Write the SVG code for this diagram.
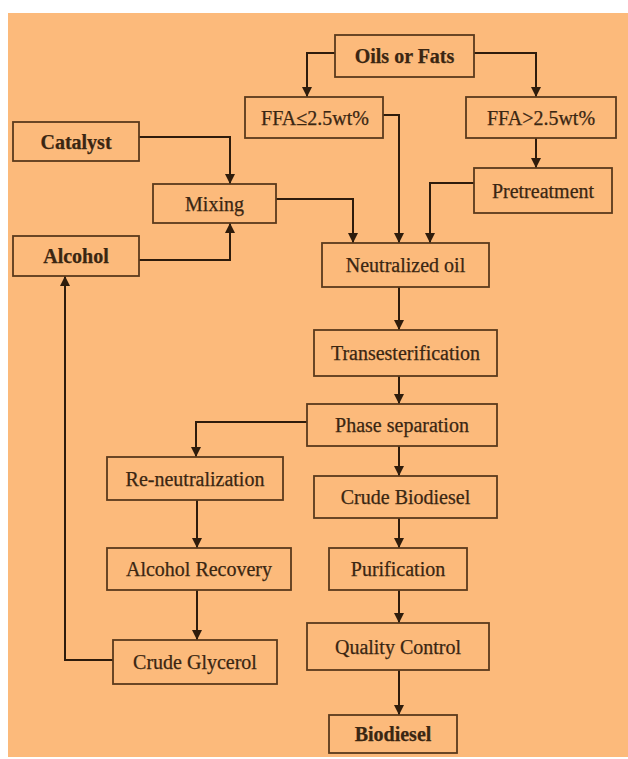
<svg xmlns="http://www.w3.org/2000/svg" width="628" height="759" viewBox="0 0 628 759">
<defs>
<style>
.box{fill:none;stroke:#5a3a1c;stroke-width:1.8}
.t{font-family:"Liberation Serif","Times New Roman",serif;font-size:20px;fill:#3a2612;text-anchor:middle;stroke:#3a2612;stroke-width:0.25}
.b{font-weight:bold}
.c{fill:none;stroke:#2e1c0c;stroke-width:2}
</style>
<marker id="ah" markerUnits="userSpaceOnUse" markerWidth="10" markerHeight="12" refX="10" refY="5" orient="auto">
<path d="M0,0 L10,5 L0,10 Z" fill="#2e1c0c"/>
</marker>
</defs>
<rect x="0" y="0" width="628" height="759" fill="#ffffff"/>
<rect x="8" y="13" width="620" height="744" fill="#fcba7b"/>
<g id="connectors">
<path class="c" d="M335 53 H307 V97" marker-end="url(#ah)"/>
<path class="c" d="M474 53 H536 V97" marker-end="url(#ah)"/>
<path class="c" d="M383 115 H399 V243" marker-end="url(#ah)"/>
<path class="c" d="M536 138 V168" marker-end="url(#ah)"/>
<path class="c" d="M474 183 H430 V243" marker-end="url(#ah)"/>
<path class="c" d="M139 137 H230 V184" marker-end="url(#ah)"/>
<path class="c" d="M139 260 H230 V223" marker-end="url(#ah)"/>
<path class="c" d="M276 199 H353 V243" marker-end="url(#ah)"/>
<path class="c" d="M399 287 V330" marker-end="url(#ah)"/>
<path class="c" d="M399 376 V404" marker-end="url(#ah)"/>
<path class="c" d="M399 446 V476" marker-end="url(#ah)"/>
<path class="c" d="M307 422 H196 V457" marker-end="url(#ah)"/>
<path class="c" d="M197 500 V548" marker-end="url(#ah)"/>
<path class="c" d="M197 590 V640" marker-end="url(#ah)"/>
<path class="c" d="M113 660 H65 V276" marker-end="url(#ah)"/>
<path class="c" d="M399 518 V548" marker-end="url(#ah)"/>
<path class="c" d="M399 590 V623" marker-end="url(#ah)"/>
<path class="c" d="M399 670 V715" marker-end="url(#ah)"/>
</g>
<g id="oils"><rect class="box" x="335" y="35" width="139" height="42"/><text class="t b" x="404.5" y="63">Oils or Fats</text></g>
<g id="ffa-low"><rect class="box" x="245" y="97" width="138" height="41"/><text class="t" x="315" y="124.5">FFA≤2.5wt%</text></g>
<g id="ffa-high"><rect class="box" x="466" y="97" width="150" height="41"/><text class="t" x="541" y="124.5">FFA&gt;2.5wt%</text></g>
<g id="catalyst"><rect class="box" x="13" y="122" width="126" height="39"/><text class="t b" x="76" y="148.5">Catalyst</text></g>
<g id="pretreatment"><rect class="box" x="474" y="168" width="138" height="45"/><text class="t" x="543" y="197.5">Pretreatment</text></g>
<g id="mixing"><rect class="box" x="153" y="184" width="123" height="39"/><text class="t" x="214.5" y="210.5">Mixing</text></g>
<g id="alcohol"><rect class="box" x="13" y="236" width="126" height="40"/><text class="t b" x="76" y="263">Alcohol</text></g>
<g id="neutralized"><rect class="box" x="322" y="243" width="167" height="44"/><text class="t" x="405.5" y="272">Neutralized oil</text></g>
<g id="transesterification"><rect class="box" x="314" y="330" width="183" height="46"/><text class="t" x="405.5" y="360">Transesterification</text></g>
<g id="phase"><rect class="box" x="307" y="404" width="190" height="42"/><text class="t" x="402" y="432">Phase separation</text></g>
<g id="reneutralization"><rect class="box" x="107" y="457" width="176" height="43"/><text class="t" x="195" y="485.5">Re-neutralization</text></g>
<g id="crude-biodiesel"><rect class="box" x="314" y="476" width="183" height="42"/><text class="t" x="405.5" y="504">Crude Biodiesel</text></g>
<g id="alcohol-recovery"><rect class="box" x="107" y="548" width="184" height="42"/><text class="t" x="199" y="576">Alcohol Recovery</text></g>
<g id="purification"><rect class="box" x="329" y="548" width="138" height="42"/><text class="t" x="398" y="576">Purification</text></g>
<g id="crude-glycerol"><rect class="box" x="113" y="640" width="164" height="44"/><text class="t" x="195" y="669">Crude Glycerol</text></g>
<g id="quality"><rect class="box" x="307" y="623" width="182" height="47"/><text class="t" x="398" y="653.5">Quality Control</text></g>
<g id="biodiesel"><rect class="box" x="329" y="715" width="128" height="38"/><text class="t b" x="393" y="741">Biodiesel</text></g>
</svg>
